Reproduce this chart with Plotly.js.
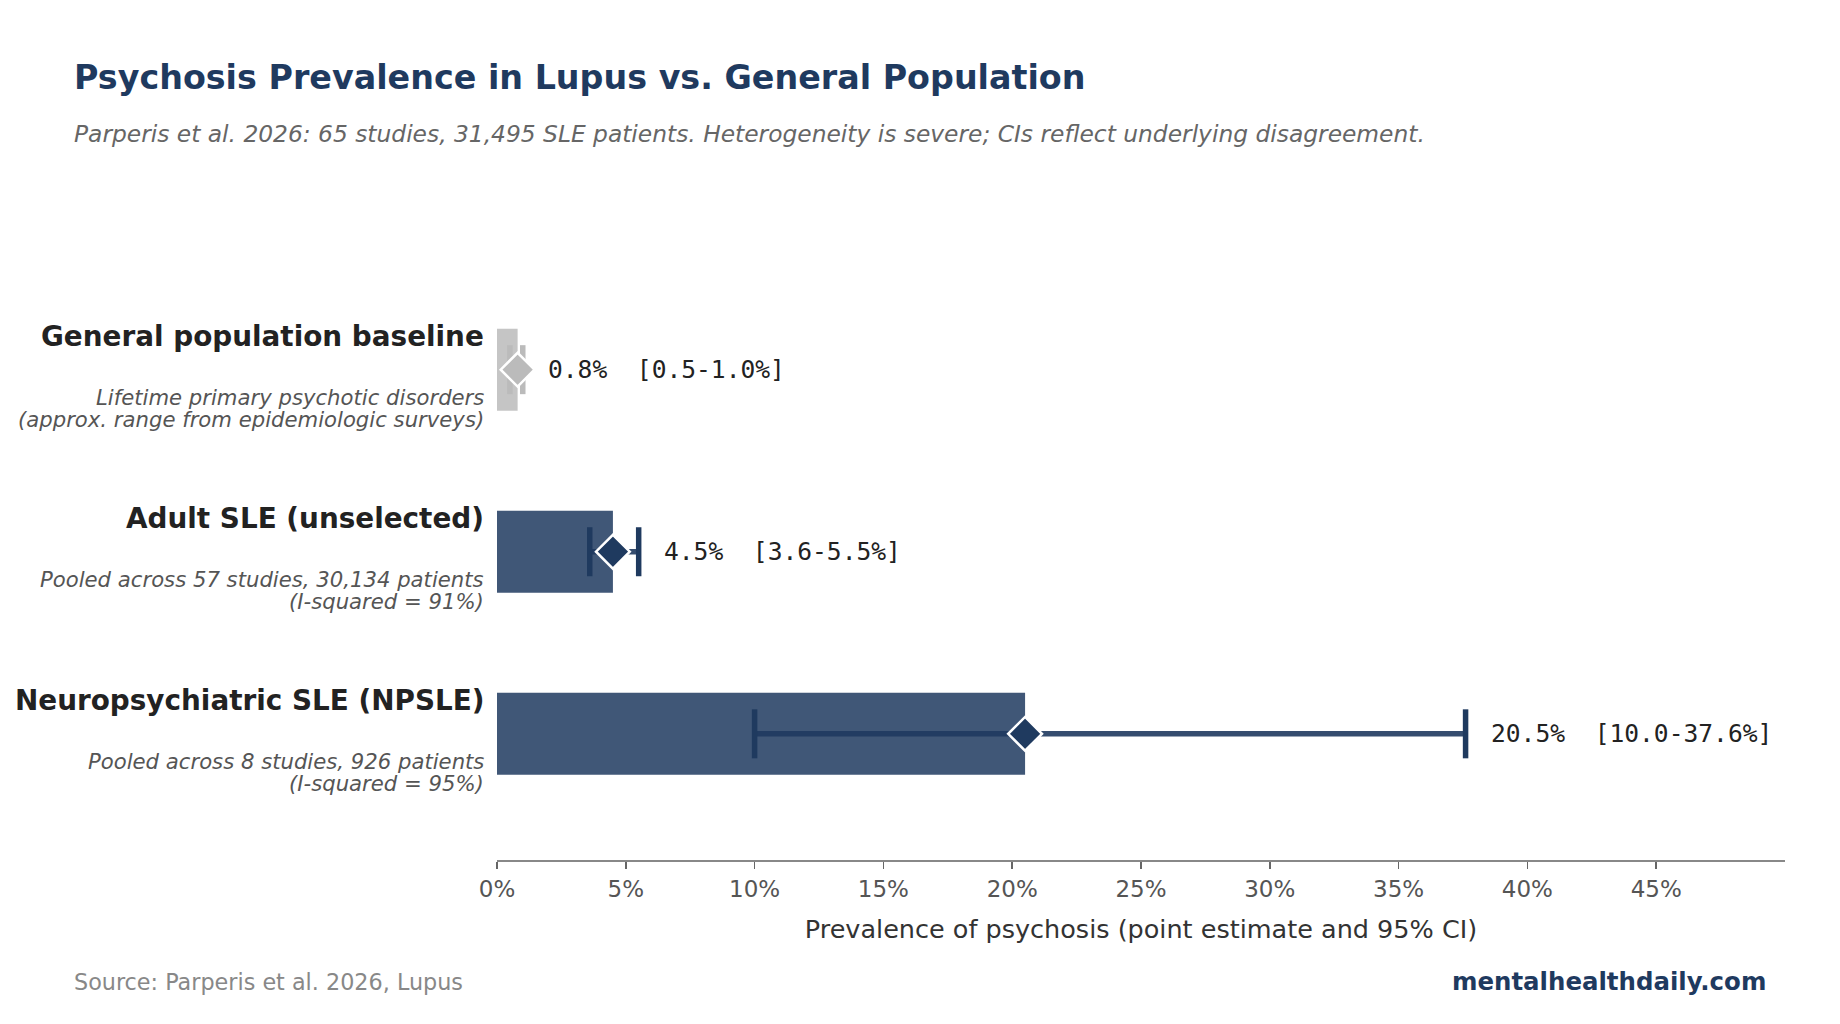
<!DOCTYPE html>
<html><head><meta charset="utf-8">
<script src="https://cdn.plot.ly/plotly-3.0.1.min.js"></script>
<style>html,body{margin:0;padding:0;background:#fff}#c{width:1840px;height:1024px}</style></head>
<body><div id="c"></div>
<script>
const names = ["General population baseline","Adult SLE (unselected)","Neuropsychiatric SLE (NPSLE)"];
const subA = ["Lifetime primary psychotic disorders","Pooled across 57 studies, 30,134 patients","Pooled across 8 studies, 926 patients"];
const subB = ["(approx. range from epidemiologic surveys)","(I-squared = 91%)","(I-squared = 95%)"];
const pos = [2,1,0];
const point = [0.8,4.5,20.5];
const low = [0.5,3.6,10.0];
const high = [1.0,5.5,37.6];
const colors = ["#bbbbbb","#1f3a5f","#1f3a5f"];
const lineColors = ["rgba(187,187,187,0.9)","rgba(31,58,95,0.9)","rgba(31,58,95,0.9)"];
const tickVals = [0,5,10,15,20,25,30,35,40,45];
const tickText = tickVals.map(v=>v+"%");
const SANS = "DejaVu Sans, sans-serif", MONO = "DejaVu Sans Mono, monospace";

const traces = [{
  type:"bar",orientation:"h",x:point,y:pos,width:0.45,
  marker:{color:colors,opacity:0.85,line:{width:0}},hoverinfo:"skip"
}];
names.forEach((n,i)=>{
  traces.push({
    type:"scatter",mode:"lines+markers",x:[low[i],high[i]],y:[pos[i],pos[i]],
    line:{color:lineColors[i],width:5.5},
    marker:{symbol:"line-ns",size:35,color:colors[i],line:{color:colors[i],width:5.5}},
    hoverinfo:"skip"
  });
  traces.push({
    type:"scatter",mode:"markers",x:[point[i]],y:[pos[i]],
    marker:{symbol:"diamond",size:26,color:colors[i],line:{color:"#ffffff",width:2.5}},
    hoverinfo:"skip"
  });
});

const ann = [];
const textAt = (o)=>ann.push(Object.assign({showarrow:false,borderpad:0},o));
names.forEach((n,i)=>{
  const y=pos[i];
  textAt({xref:"paper",x:0,xshift:-12,yref:"y",y:y,yshift:33.5,xanchor:"right",yanchor:"middle",text:"<b>"+n+"</b>",font:{family:SANS,size:27.85,color:"#222222"}});
  textAt({xref:"paper",x:0,xshift:-12,yref:"y",y:y,yshift:-27.5,xanchor:"right",yanchor:"middle",text:"<i>"+subA[i]+"</i>",font:{family:SANS,size:21.2,color:"#555555"}});
  textAt({xref:"paper",x:0,xshift:-12,yref:"y",y:y,yshift:-50,xanchor:"right",yanchor:"middle",text:"<i>"+subB[i]+"</i>",font:{family:SANS,size:21.2,color:"#555555"}});
  textAt({xref:"x",x:high[i]+1,xshift:-1.5,yref:"y",y:y,xanchor:"left",yanchor:"middle",
    text:point[i].toFixed(1)+"%  ["+low[i].toFixed(1)+"-"+high[i].toFixed(1)+"%]",font:{family:MONO,size:24.6,color:"#222222"}});
});
const pageText=(px,py,anchor,text,size,color)=>textAt({xref:"paper",yref:"paper",
  x:(px-496.7)/(1785-496.7),y:(860-py)/(860-224.3),xanchor:anchor,yanchor:"middle",text,font:{family:SANS,size,color}});
pageText(73,77.5,"left","<b>Psychosis Prevalence in Lupus vs. General Population</b>",33.35,"#1f3a5f");
pageText(73,134,"left","<i>Parperis et al. 2026: 65 studies, 31,495 SLE patients. Heterogeneity is severe; CIs reflect underlying disagreement.</i>",23.35,"#666666");
pageText(73,982,"left","Source: Parperis et al. 2026, Lupus",22.3,"#888888");
pageText(1767.2,981.3,"right","<b>mentalhealthdaily.com</b>",24.45,"#1f3a5f");

Plotly.newPlot("c",traces,{
  width:1840,height:1024,paper_bgcolor:"#fff",plot_bgcolor:"#fff",showlegend:false,
  margin:{l:496.7,r:55,t:224.3,b:164},
  barmode:"overlay",
  xaxis:{range:[0,50],tickmode:"array",tickvals:tickVals,ticktext:tickText,showgrid:false,zeroline:false,
    showline:true,linecolor:"#888888",linewidth:2,ticks:"outside",ticklen:7,tickwidth:1.5,tickcolor:"#666666",
    tickfont:{family:SANS,size:23,color:"#555555"},
    title:{text:"Prevalence of psychosis (point estimate and 95% CI)",font:{family:SANS,size:25.5,color:"#333333"},standoff:19.5}},
  yaxis:{range:[-0.693,2.8],showgrid:false,zeroline:false,showline:false,showticklabels:false,ticks:""},
  annotations:ann
},{displayModeBar:false,staticPlot:true});
</script></body></html>
